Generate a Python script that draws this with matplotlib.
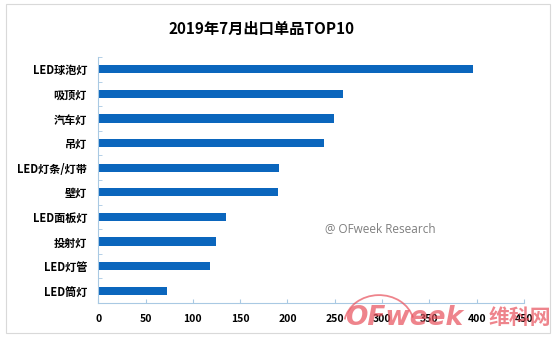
import matplotlib
matplotlib.use("Agg")
import matplotlib.pyplot as plt
from matplotlib.patches import Rectangle, Arc
import numpy as np

plt.rcParams['font.family'] = ['Noto Sans CJK SC', 'DejaVu Sans']

categories = ["LED球泡灯", "吸顶灯", "汽车灯", "吊灯", "LED灯条/灯带",
              "壁灯", "LED面板灯", "投射灯", "LED灯管", "LED筒灯"]
values = [396, 259, 249, 239, 191, 190, 135, 125, 118, 73]
xticks = [0, 50, 100, 150, 200, 250, 300, 350, 400, 450]

BAR = "#0B66BD"
AXIS = "#A9C9E3"
LOGO = "#E8505B"

fig = plt.figure(figsize=(5.55, 3.39), dpi=100)
ax = fig.add_axes([0.177, 0.106, 0.767, 0.726])

y = np.arange(len(categories))
ax.barh(y, values, height=0.33, color=BAR, zorder=2)
ax.set_ylim(len(categories) - 0.5, -0.5)
ax.set_xlim(0, 450)

ax.set_yticks(y)
ax.set_yticklabels(categories, fontsize=8, fontweight="bold")
ax.set_yticks(np.arange(-0.5, len(categories), 1), minor=True)
ax.tick_params(axis="y", which="major", length=0, pad=8)
ax.tick_params(axis="y", which="minor", length=3, direction="in", color=AXIS)

ax.set_xticks(xticks)
ax.set_xticklabels([str(t) for t in xticks], fontsize=7.5, fontweight="bold")
ax.tick_params(axis="x", length=3, direction="in", color=AXIS, pad=8)

for s in ("top", "right"):
    ax.spines[s].set_visible(False)
for s in ("left", "bottom"):
    ax.spines[s].set_color(AXIS)
    ax.spines[s].set_linewidth(0.8)

fig.text(0.472, 0.915, "2019年7月出口单品TOP10", ha="center", va="center",
         fontsize=11, fontweight="bold")

fig.text(0.685, 0.325, "@ OFweek Research", ha="center", va="center",
         fontsize=8.5, color="#7F7F7F", family=["Open Sans", "DejaVu Sans"])

# site logo in the lower right corner, drawn over the axis labels
fig.text(0.622, 0.062, "OFweek", ha="left", va="center", fontsize=19,
         fontweight="bold", style="italic", color=LOGO, alpha=0.7,
         family=["DejaVu Sans"])
fig.text(0.993, 0.062, "维科网", ha="right", va="center", fontsize=15,
         fontweight="bold", color=LOGO, alpha=0.7)
fig.add_artist(Arc((0.683, 0.041), 0.126, 0.177, theta1=20, theta2=165,
                   transform=fig.transFigure, color=LOGO, alpha=0.7, lw=1.3))

fig.add_artist(Rectangle((0.011, 0.018), 0.98, 0.97, transform=fig.transFigure,
                         fill=False, edgecolor="#D9D9D9", lw=0.8))

fig.savefig("out.png", dpi=100)
